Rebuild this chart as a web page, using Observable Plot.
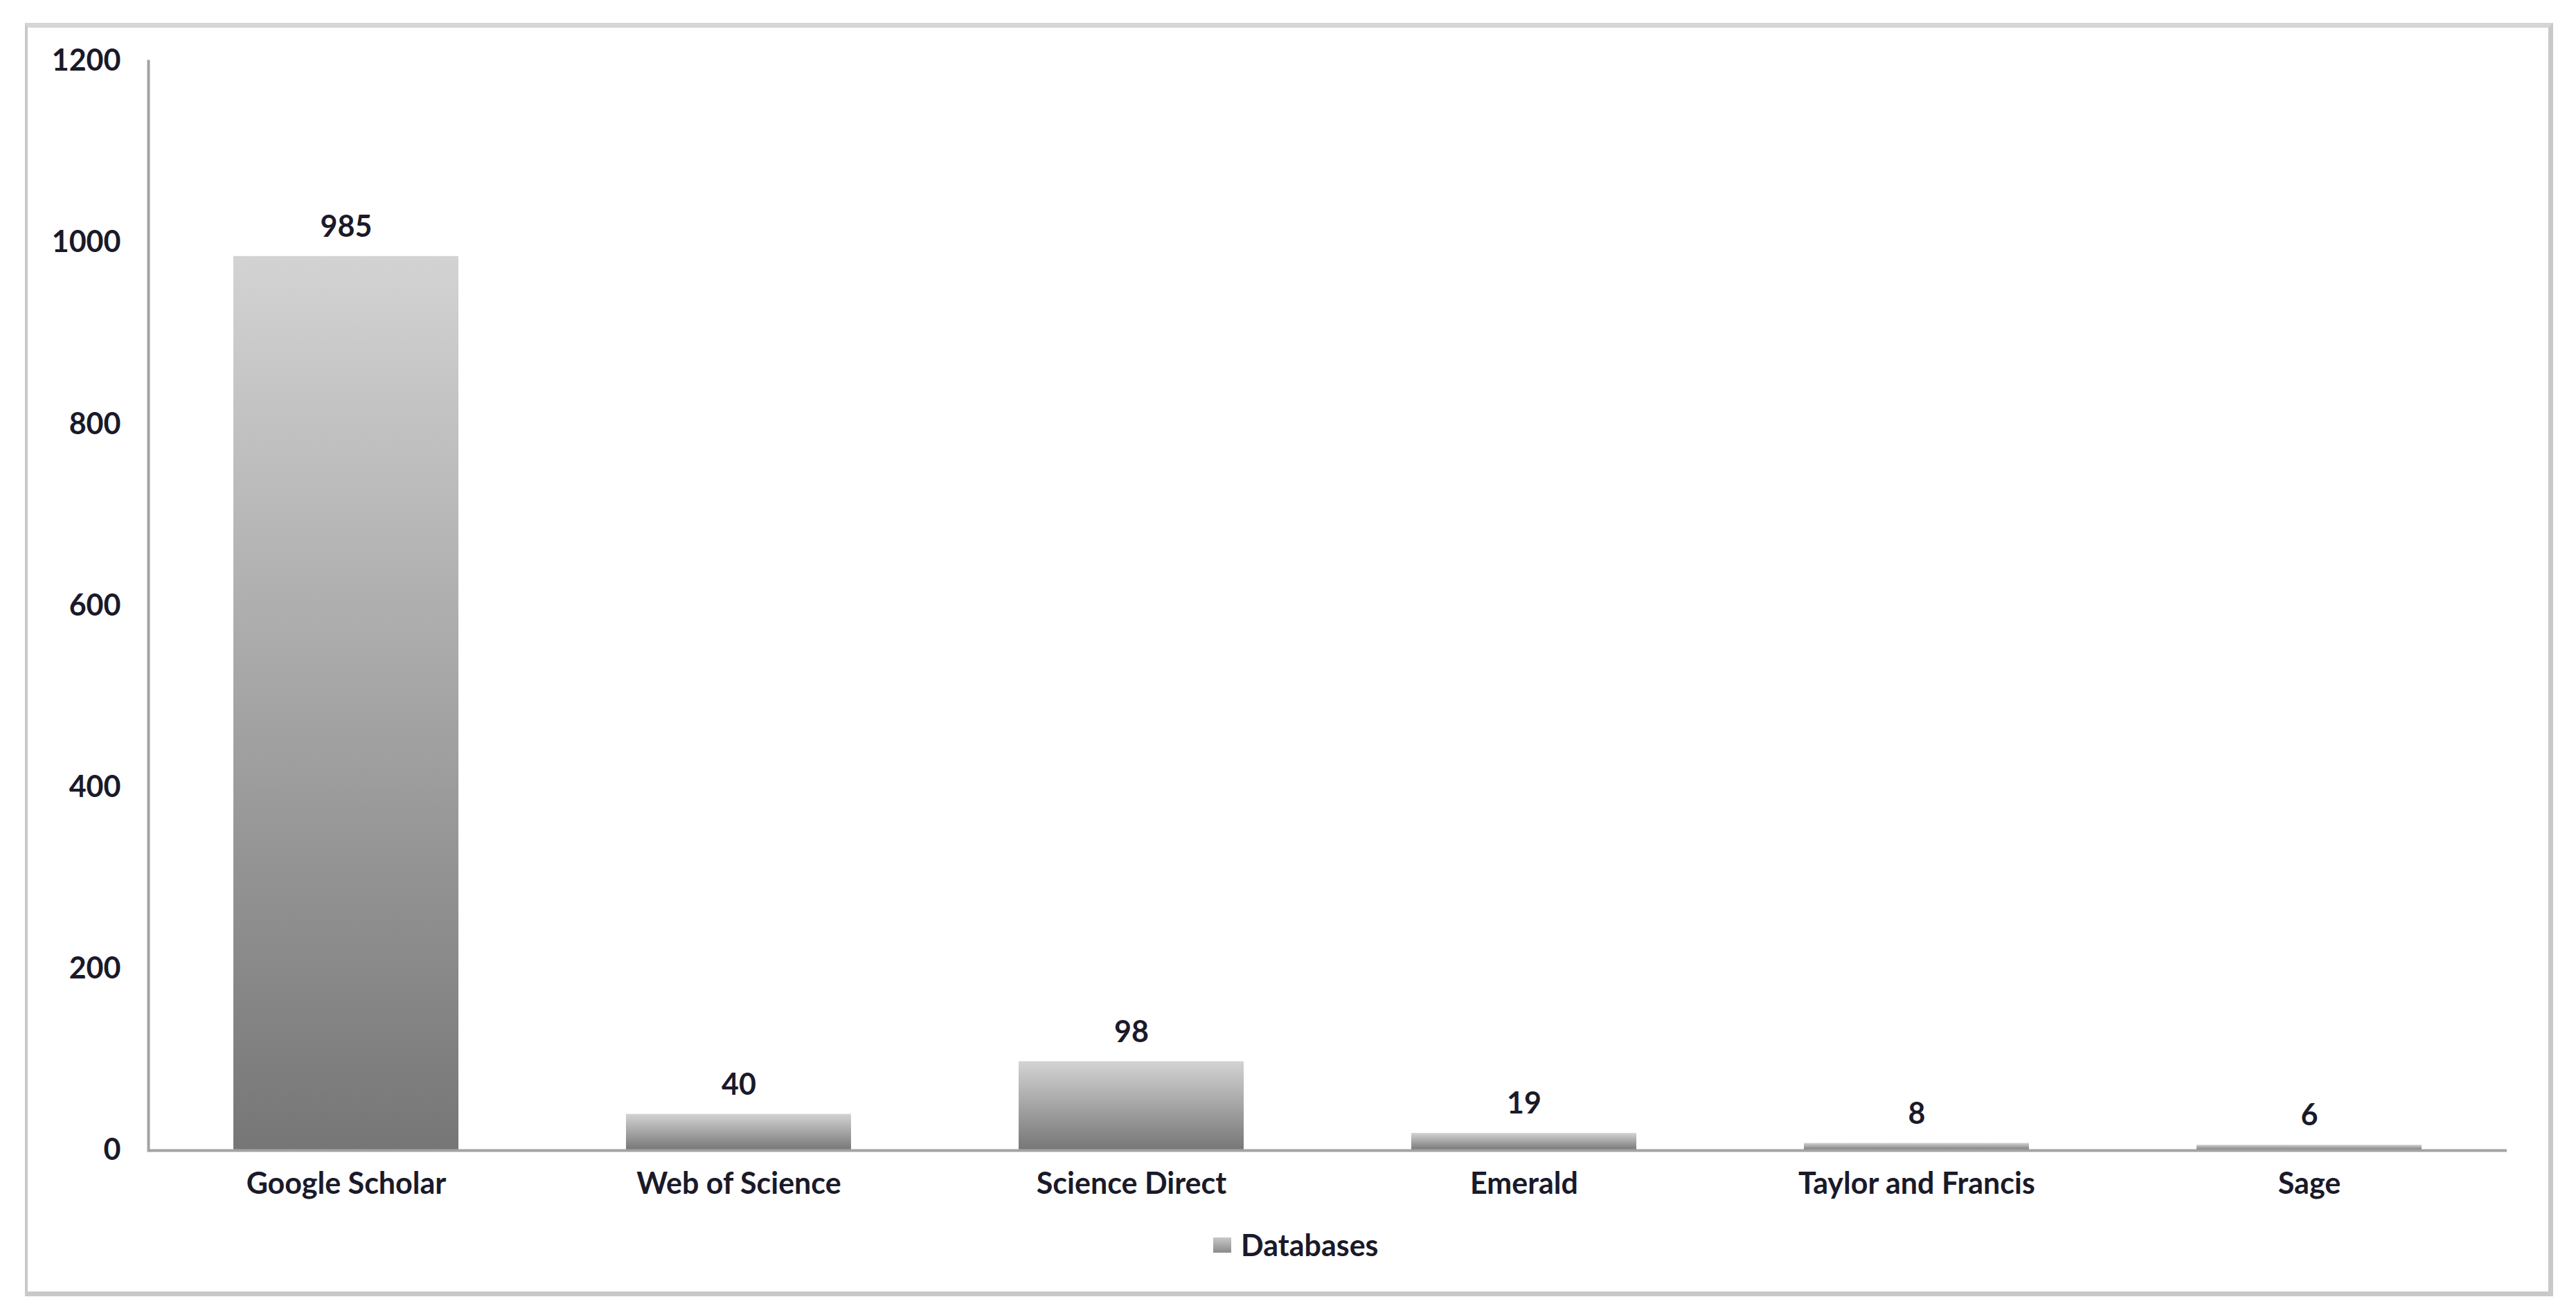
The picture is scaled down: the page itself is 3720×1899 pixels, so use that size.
<!DOCTYPE html>
<html>
<head>
<meta charset="utf-8">
<script src="https://cdn.jsdelivr.net/npm/d3@7"></script>
<script src="https://cdn.jsdelivr.net/npm/@observablehq/plot@0.6"></script>
<style>
  html, body { margin: 0; padding: 0; background: #ffffff; }
  body { width: 3720px; height: 1899px; position: relative; overflow: hidden; font-family: Lato, "Open Sans", sans-serif; }
  #frame { position: absolute; left: 36px; top: 33px; width: 3651px; height: 1839px; box-sizing: border-box;
           border: 7px solid #c9c9c9; border-left-width: 4px; border-top-color: #d6d6d6; }
  #chart { position: absolute; left: 0; top: 0; }
  #legend { position: absolute; left: 1752px; top: 1772px; display: flex; align-items: center; gap: 14px;
            font-size: 43px; font-weight: bold; color: #1a1a2a; }
  #legend .sw { width: 26px; height: 22px; background: linear-gradient(#c8c8c8, #8a8a8a); }
</style>
</head>
<body>
<div id="frame"></div>
<div id="chart"></div>
<div id="legend"><span class="sw"></span><span id="legendText"></span></div>
<script>
const categories = ["Google Scholar", "Web of Science", "Science Direct", "Emerald", "Taylor and Francis", "Sage"];
const values = [985, 40, 98, 19, 8, 6];
const yTicks = [0, 200, 400, 600, 800, 1000, 1200];
const seriesName = "Databases";

const data = categories.map((c, i) => ({cat: c, value: values[i]}));

function gradientDefs() {
  const g = d3.create("svg:g");
  const lg = g.append("defs").append("linearGradient")
    .attr("id", "barGrad").attr("x1", 0).attr("y1", 0).attr("x2", 0).attr("y2", 1);
  lg.append("stop").attr("offset", "0%").attr("stop-color", "#d3d3d3");
  lg.append("stop").attr("offset", "100%").attr("stop-color", "#767676");
  return g.node();
}

const chart = Plot.plot({
  width: 3720,
  height: 1760,
  marginLeft: 214,
  marginRight: 100,
  marginTop: 88,
  marginBottom: 99,
  style: {fontFamily: "Lato, 'Open Sans', sans-serif", fontSize: "43px", color: "#1a1a2a", background: "transparent", overflow: "visible"},
  x: {domain: categories, paddingInner: 0.427, paddingOuter: 0.2135, label: null},
  y: {domain: [0, 1200], ticks: yTicks, label: null},
  marks: [
    gradientDefs,
    Plot.barY(data, {x: "cat", y: "value", fill: "url(#barGrad)"}),
    Plot.ruleY([0], {stroke: "#a3a3a3", strokeWidth: 4}),
    Plot.frame({anchor: "left", stroke: "#a3a3a3", strokeWidth: 4}),
    Plot.text(data, {x: "cat", y: "value", text: d => String(d.value), dy: -42, fontWeight: "bold", fill: "#1a1a2a"}),
    Plot.axisX({tickSize: 0, tickPadding: 32, fontWeight: "bold", label: null}),
    Plot.axisY({ticks: yTicks, tickFormat: d => String(d), tickSize: 0, tickPadding: 40, fontWeight: "bold", label: null})
  ]
});
document.getElementById("chart").appendChild(chart);
document.getElementById("legendText").textContent = seriesName;
</script>
</body>
</html>
